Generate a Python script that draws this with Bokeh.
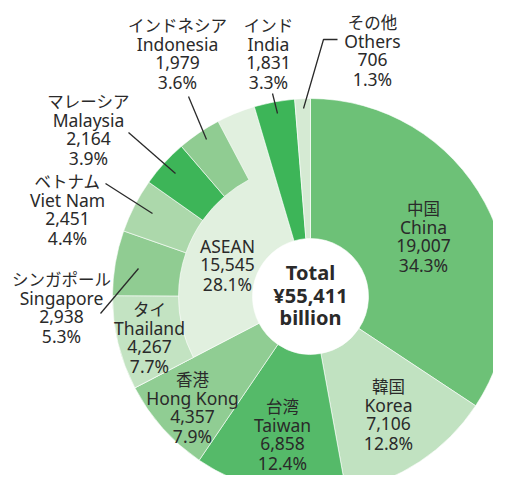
import math
from bokeh.plotting import figure
from bokeh.models import Range1d
from bokeh.core.properties import value
from bokeh.embed import file_html
from bokeh.resources import INLINE

# ---------------- data ----------------
regions = ["China", "Korea", "Taiwan", "Hong Kong", "ASEAN", "India", "Others"]
regions_ja = ["中国", "韓国", "台湾", "香港", "", "インド", "その他"]
region_values = [19007, 7106, 6858, 4357, 15545, 1831, 706]
region_shares = ["34.3%", "12.8%", "12.4%", "7.9%", "28.1%", "3.3%", "1.3%"]

asean = ["Thailand", "Singapore", "Viet Nam", "Malaysia", "Indonesia"]
asean_ja = ["タイ", "シンガポール", "ベトナム", "マレーシア", "インドネシア"]
asean_values = [4267, 2938, 2451, 2164, 1979]
asean_shares = ["7.7%", "5.3%", "4.4%", "3.9%", "3.6%"]

total_lines = ["Total", "¥55,411", "billion"]

# ---------------- styles / layout ----------------
region_colors = ["#6dc177", "#c1e2c1", "#55ba69", "#90cd93", "#e1f0df", "#3db558", "#d5ead3"]
asean_colors = ["#c3e3c2", "#90cc92", "#acd8ab", "#3db558", "#90cc92"]
TXT = "#2a2a2a"
R_IN, R_MID, R_OUT = 58, 132, 198
CX, CY = 310, 296          # centre in reference pixel coords
W, H = 493, 475

def X(px):
    return px - CX

def Y(py):
    return CY - py

# label anchors (first line centre, reference pixel coords)
label_pos = {
    "China": (423, 207), "Korea": (388, 385), "Taiwan": (282, 405),
    "Hong Kong": (192, 378), "ASEAN": (227, 245), "India": (268, 24),
    "Others": (372, 21), "Thailand": (149, 308), "Singapore": (61, 278),
    "Viet Nam": (67, 180), "Malaysia": (88, 100), "Indonesia": (177, 24),
}
leaders = {
    "Singapore": [(100, 313), (138, 268)],
    "Viet Nam": [(105, 183), (152, 213)],
    "Malaysia": [(128, 132), (175, 173)],
    "Indonesia": [(188, 96), (206, 139)],
    "India": [(272, 93), (277, 113)],
    "Others": [(337, 39), (323, 39), (303, 108)],
}
STEP = 19

p = figure(width=W, height=H, output_backend="svg", toolbar_location=None,
           x_range=Range1d(-CX, W - CX), y_range=Range1d(CY - H, CY),
           min_border=0, outline_line_color=None, background_fill_color="white")
p.axis.visible = False
p.grid.visible = False

total = sum(region_values)
def ang(c):
    return math.pi / 2 - 2 * math.pi * c / total

# main ring
cum = 0
starts, ends = [], []
asean_start = None
for name, v in zip(regions, region_values):
    starts.append(ang(cum)); ends.append(ang(cum + v))
    if name == "ASEAN":
        asean_start = cum
    cum += v
p.annular_wedge(x=0, y=0, inner_radius=R_IN, outer_radius=R_OUT,
                start_angle=starts, end_angle=ends, direction="clock",
                fill_color=region_colors, line_color="white", line_width=0.6)

# ASEAN breakdown on outer ring
cum = asean_start
a_st, a_en = [], []
for v in asean_values:
    a_st.append(ang(cum)); a_en.append(ang(cum + v)); cum += v
p.annular_wedge(x=0, y=0, inner_radius=R_MID, outer_radius=R_OUT,
                start_angle=a_st, end_angle=a_en, direction="clock",
                fill_color=asean_colors, line_color="white", line_width=0.6)

# leader lines
for pts in leaders.values():
    p.line([X(a) for a, b in pts], [Y(b) for a, b in pts], line_color=TXT, line_width=1.3)

JP = value("Noto Sans CJK JP")
LAT = value("Noto Sans")

def draw_label(name, lines):
    x0, y0 = label_pos[name]
    for i, (t, f, s) in enumerate(lines):
        p.text(x=[X(x0)], y=[Y(y0 + i * STEP)], text=[t], text_font=f,
               text_font_size=s, text_align="center", text_baseline="middle",
               text_color=TXT)

for name, ja, v, sh in zip(regions, regions_ja, region_values, region_shares):
    lines = []
    if ja:
        lines.append((ja, JP, "16.5px"))
    lines += [(name, LAT, "17.5px"), (f"{v:,}", LAT, "17.5px"), (sh, LAT, "17.5px")]
    draw_label(name, lines)

for name, ja, v, sh in zip(asean, asean_ja, asean_values, asean_shares):
    draw_label(name, [(ja, JP, "16.5px"), (name, LAT, "17.5px"),
                      (f"{v:,}", LAT, "17.5px"), (sh, LAT, "17.5px")])

# centre
for i, t in enumerate(total_lines):
    p.text(x=[0], y=[Y(272 + i * 22.5)], text=[t], text_font=LAT, text_font_size="20px",
           text_font_style="bold", text_align="center", text_baseline="middle",
           text_color=TXT)

open("out.html", "w").write(file_html(p, INLINE))
